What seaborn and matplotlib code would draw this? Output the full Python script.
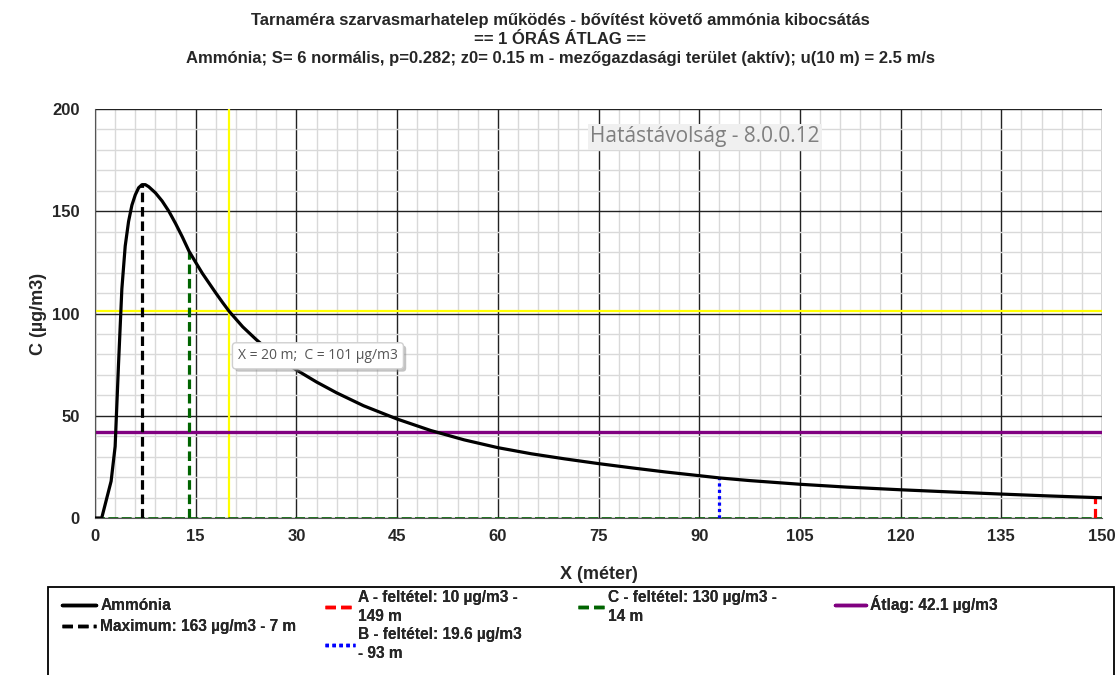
import numpy as np
import pandas as pd
import matplotlib
matplotlib.use("Agg")
import matplotlib.pyplot as plt
import matplotlib.patheffects as pe
from matplotlib.patches import Rectangle
import seaborn as sns
from matplotlib.lines import Line2D
from matplotlib.ticker import MultipleLocator

# ---- data ----
x_m = [0, 1, 2.4, 3, 3.5, 4, 4.5, 5, 5.5, 6, 6.5, 7, 7.5, 8, 9, 10, 11, 12, 13, 14, 15, 16,
       17, 18, 19, 20, 22, 24, 26, 28, 30, 33, 36, 40, 45, 50, 55, 60, 65, 70, 75, 80, 85,
       90, 93, 97.5, 105, 112, 120, 127, 135, 142, 149, 150]
c_ug = [0, 0, 18, 35, 75, 112, 133, 145, 153, 158, 161.5, 163, 163, 162, 159, 155, 150, 144,
        137.5, 130.5, 125, 119.6, 114.8, 110, 105.4, 101, 93.5, 87.3, 81.6, 76.7, 72.4, 66.5,
        61.2, 54.9, 48.4, 42.8, 38.2, 34.4, 31.4, 28.9, 26.6, 24.5, 22.5, 20.7, 19.6, 18.3,
        16.5, 15.1, 13.8, 12.8, 11.7, 10.8, 10, 9.9]

max_x, max_c = 7, 163
a_x, a_c = 149, 10
b_x, b_c = 93, 19.6
c_x, c_c = 14, 130
atlag = 42.1
sel_x, sel_c = 20, 101

title_lines = ["Tarnaméra szarvasmarhatelep működés - bővítést követő ammónia kibocsátás",
               "== 1 ÓRÁS ÁTLAG ==",
               "Ammónia; S= 6 normális, p=0.282; z0= 0.15 m - mezőgazdasági terület (aktív); u(10 m) = 2.5 m/s"]
legend_labels = ["Ammónia", "Maximum: 163 µg/m3 - 7 m",
                 "A - feltétel: 10 µg/m3 -\n149 m", "B - feltétel: 19.6 µg/m3\n- 93 m",
                 "C - feltétel: 130 µg/m3 -\n14 m", "Átlag: 42.1 µg/m3"]

df = pd.DataFrame({"X": x_m, "C": c_ug})

sns.set_style("white")
plt.rcParams['font.family'] = ['Liberation Sans', 'DejaVu Sans']

W, H = 1120, 675
fig = plt.figure(figsize=(11.2, 6.75), dpi=100)
ax = fig.add_axes([95/W, 1-518/H, (1102-95)/W, (518-109)/H])

ax.set_xlim(0, 150)
ax.set_ylim(0, 200)
ax.xaxis.set_major_locator(MultipleLocator(15))
ax.xaxis.set_minor_locator(MultipleLocator(3))
ax.yaxis.set_major_locator(MultipleLocator(50))
ax.yaxis.set_minor_locator(MultipleLocator(10))
ax.grid(which='minor', color='#d9d9d9', lw=1.0, zorder=0)
ax.grid(which='major', color='#222222', lw=1.0, zorder=0.5)
ax.set_axisbelow(True)
for s in ['top', 'right']:
    ax.spines[s].set_visible(False)
ax.spines['left'].set_color('#555555')
ax.spines['bottom'].set_color('#555555')
ax.tick_params(axis='y', which='major', length=9, width=1, color='#333333', labelsize=12, pad=2)
ax.tick_params(axis='x', which='major', length=0, labelsize=12, pad=8)
ax.tick_params(which='minor', length=0)
for lab in ax.get_xticklabels() + ax.get_yticklabels():
    lab.set_fontweight('bold')

# reference lines
ax.axhline(sel_c, color='#ffff00', lw=1.6, zorder=2)
ax.axvline(sel_x, color='#ffff00', lw=1.6, zorder=2)
ax.axhline(atlag, color='#800080', lw=2.4, zorder=2)
ax.axhline(0, color='#006400', lw=1.2, ls=(0, (6, 2)), zorder=2)
ax.plot([max_x, max_x], [0, max_c], color='black', lw=2.3, ls=(0, (3, 1.5)), zorder=3)
ax.plot([c_x, c_x], [0, c_c], color='#006400', lw=2.3, ls=(0, (3, 1.5)), zorder=3)
ax.plot([b_x, b_x], [0, b_c], color='blue', lw=2.3, ls=(0, (1, 1)), zorder=3)
ax.plot([a_x, a_x], [0, a_c], color='red', lw=2.3, ls=(0, (3, 1.5)), zorder=3)

sns.lineplot(data=df, x="X", y="C", ax=ax, color='black', lw=2.3, zorder=4)

ax.set_xlabel("X (méter)", fontsize=13, fontweight='bold', labelpad=16)
ax.set_ylabel("C (µg/m3)", fontsize=13, fontweight='bold', labelpad=4)

# annotation box
t = ax.text(21.3, 79.3, "X = 20 m;  C = 101 µg/m3", fontsize=10, color='#555555',
            family='Open Sans', va='center', ha='left', zorder=6,
            bbox=dict(boxstyle='round,pad=0.4,rounding_size=0.25', fc='white', ec='#d0d0d0', lw=1))
t.get_bbox_patch().set_path_effects([
    pe.withSimplePatchShadow(offset=(2, -2), shadow_rgbFace='#888888', alpha=0.5)])
# watermark
ax.text(90.9, 186.5, "Hatástávolság - 8.0.0.12", fontsize=15, color='#7f7f7f',
        family='Open Sans', va='center', ha='center', zorder=6,
        bbox=dict(boxstyle='square,pad=0.12', fc='#f0f0f0', ec='none'))

fig.text(0.5, 1-20/H, title_lines[0], ha='center', va='center', fontsize=12, fontweight='bold')
fig.text(0.5, 1-39/H, title_lines[1], ha='center', va='center', fontsize=12, fontweight='bold')
fig.text(0.5, 1-59/H, title_lines[2], ha='center', va='center', fontsize=12, fontweight='bold')

handles = [
    Line2D([], [], color='black', lw=2.5),
    Line2D([], [], color='black', lw=2.5, ls=(0, (3, 1.5))),
    Line2D([], [], color='red', lw=2.5, ls=(0, (3, 1.5))),
    Line2D([], [], color='blue', lw=2.5, ls=(0, (1, 1))),
    Line2D([], [], color='#006400', lw=2.5, ls=(0, (3, 1.5))),
    Line2D([], [], color='#800080', lw=2.5),
]
# (start, stop, x px, top px, labelspacing, handlelength)
groups = [(0, 2, 62, 598, 0.4, 2.2), (2, 4, 325, 590, 0.25, 1.9),
          (4, 5, 578, 590, 0.1, 1.7), (5, 6, 835, 595, 0.1, 2.0)]
for i0, i1, xp, yp, ls, hl in groups:
    lg = fig.legend(handles[i0:i1], legend_labels[i0:i1], loc='upper left',
                    bbox_to_anchor=(xp/W, 1-yp/H), frameon=False,
                    prop={'weight': 'bold', 'size': 11.2}, handlelength=hl,
                    borderaxespad=0, borderpad=0, labelspacing=ls, handletextpad=0.25)
    for tx in lg.get_texts():
        tx.set_linespacing(1.3)
    fig.add_artist(lg)

fig.patches.append(Rectangle((48/W, -0.05), (1114-48)/W, 1-587/H+0.05,
                             transform=fig.transFigure, fill=False, ec='black', lw=1.3))

fig.savefig("out.png", dpi=100)
